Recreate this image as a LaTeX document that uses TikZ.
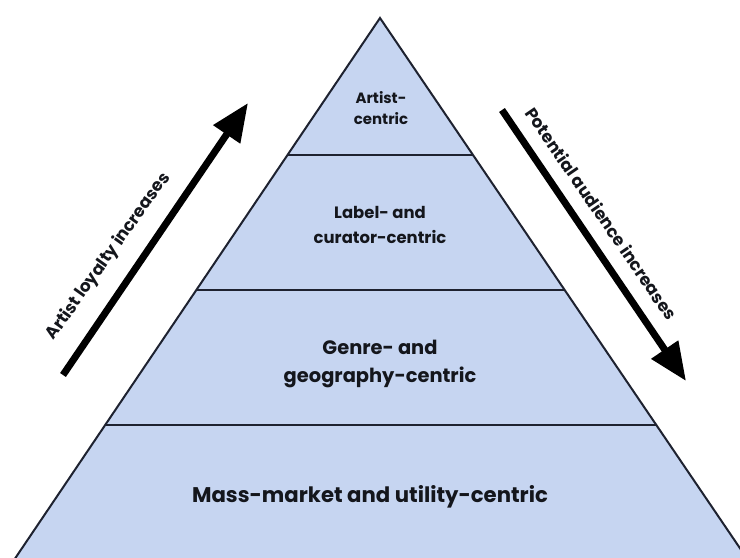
\documentclass[tikz,border=0pt]{standalone}
\usepackage{fontspec}
\setmainfont{Poppins}
\usetikzlibrary{arrows.meta}
\definecolor{pyrfill}{HTML}{C6D5F1}
\definecolor{pyrline}{HTML}{1E2230}
\definecolor{txt}{HTML}{14161C}
\tikzset{
  edge/.style={draw=pyrline, line width=2bp},
  lvl/.style={text=txt, font=\bfseries, align=center, inner sep=0pt},
  bigarrow/.style={line width=7bp, -{Triangle[width=31bp,length=38bp]}, black},
  sidetxt/.style={text=txt, font=\bfseries\fontsize{17}{20}\selectfont, inner sep=0pt}
}
\begin{document}
\begin{tikzpicture}[x=1bp,y=-1bp]
\useasboundingbox (0,0) rectangle (740,558);
\begin{scope}
\clip (0,0) rectangle (740,558);
\coordinate (apex) at (380,18);
\coordinate (bl) at (12,563);
\coordinate (br) at (750,563);
\fill[pyrfill] (apex) -- (bl) -- (br) -- cycle;
\draw[edge] (bl) -- (apex) -- (br);
% dividers
\coordinate (d1l) at (287,155);
\coordinate (d1r) at (473,155);
\coordinate (d2l) at (196,290);
\coordinate (d2r) at (564,290);
\coordinate (d3l) at (105,425);
\coordinate (d3r) at (656,425);
\draw[edge] (d1l) -- (d1r);
\draw[edge] (d2l) -- (d2r);
\draw[edge] (d3l) -- (d3r);
\end{scope}
\node[lvl, font=\bfseries\fontsize{15}{21}\selectfont] (l1) at (381,108) {Artist-\\centric};
\node[lvl, font=\bfseries\fontsize{16.5}{26}\selectfont] (l2) at (380,225) {Label- and\\curator-centric};
\node[lvl, font=\bfseries\fontsize{19.5}{29}\selectfont] (l3) at (380,364) {Genre- and\\geography-centric};
\node[lvl, font=\bfseries\fontsize{21.3}{24}\selectfont] (l4) at (370,497) {Mass-market and utility-centric};
% arrows
\coordinate (la0) at (63,375);
\coordinate (la1) at (248,103);
\coordinate (ra0) at (502,110);
\coordinate (ra1) at (686,381);
\draw[bigarrow] (la0) -- (la1);
\draw[bigarrow] (ra0) -- (ra1);
\node[sidetxt, rotate=54.5] (lt) at (108.5,256.5) {Artist loyalty increases};
\node[sidetxt, rotate=-55.5] (rt) at (601.5,213.5) {Potential audience increases};
\end{tikzpicture}
\end{document}
